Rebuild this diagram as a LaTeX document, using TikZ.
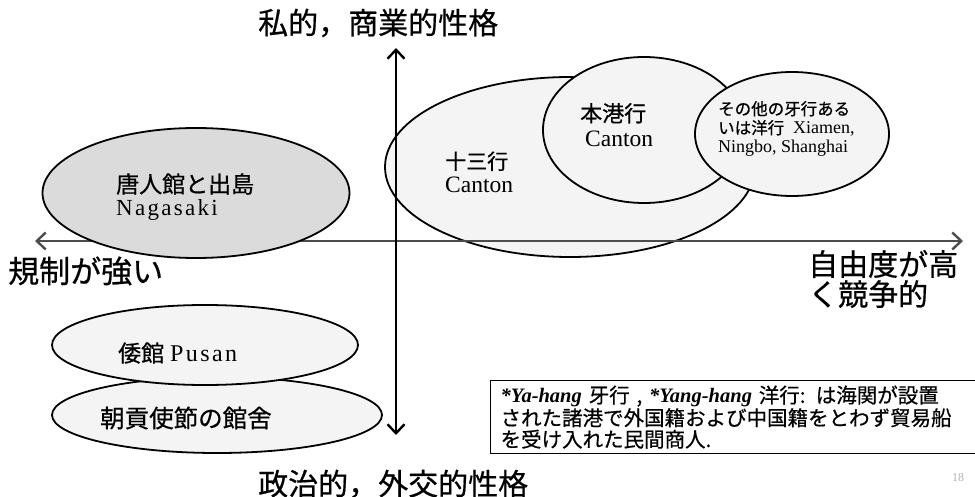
\documentclass[tikz,border=0pt]{standalone}
\usepackage{fontspec}
\setmainfont{Liberation Serif}
\newfontfamily\jpfont[FakeBold=0.6]{Noto Sans CJK JP}
\newfontfamily\wideserif[LetterSpace=10]{Liberation Serif}
\usetikzlibrary{shapes.geometric,arrows.meta,positioning}

\tikzset{
  zone/.style={ellipse, draw=black, line width=1.8pt, fill=gray!9, inner sep=0pt},
  zonetext/.style={align=left, anchor=west, inner sep=0pt},
  axislabel/.style={anchor=west, inner sep=0pt, font=\jpfont\fontsize{30}{30}\selectfont},
  axis/.style={line width=2.4pt, {Straight Barb[length=9pt,width=17pt]}-{Straight Barb[length=9pt,width=17pt]}},
}

\begin{document}
\begin{tikzpicture}[x=1pt,y=-1pt]
\useasboundingbox (0,0) rectangle (975,497);
% free side
\node[zone, minimum width=370pt, minimum height=180pt](shisan) at (570,167) {};
\node[zone, minimum width=202pt, minimum height=146pt](honko) at (644,130) {};
\node[zone, minimum width=194pt, minimum height=124pt](others) at (792,134) {};
% axes
\coordinate (axW) at (35,241);
\coordinate (axE) at (963,241);
\coordinate (axN) at (396,48);
\coordinate (axS) at (396,435);
\draw[axis, draw=black!70](axW)--(axE);
\draw[axis](axN)--(axS);
% regulated side
\node[zone, fill=gray!28, minimum width=307pt, minimum height=130pt](nagasaki) at (196,193) {};
\node[zone, minimum width=330pt, minimum height=76pt](chosen) at (217,415) {};
\node[zone, minimum width=306pt, minimum height=80pt](wakan) at (205,345) {};

\node[zonetext, font=\fontsize{23}{23}\selectfont](nagasakitext) at (116,197)
  {{\jpfont 唐人館と出島}\\{\wideserif Nagasaki}};
\node[zonetext, font=\fontsize{23.5}{23}\selectfont](shisantext) at (445,172)
  {{\jpfont\fontsize{21}{23}\selectfont 十三行}\\Canton};
\node[zonetext, font=\fontsize{23.5}{25}\selectfont](honkotext) at (580,125)
  {{\jpfont\fontsize{22}{25}\selectfont 本港行}\\\hspace{5pt}Canton};
\node[zonetext, font=\fontsize{18}{19}\selectfont](otherstext) at (718,129)
  {{\jpfont\fontsize{16.5}{19}\selectfont その他の牙行ある}\\{\jpfont\fontsize{16.5}{19}\selectfont いは洋行}\ \ Xiamen,\\Ningbo, Shanghai};
\node[zonetext, font=\fontsize{24}{24}\selectfont](wakantext) at (118,353)
  {{\jpfont\fontsize{23}{24}\selectfont 倭館} {\wideserif Pusan}};
\node[zonetext, font=\jpfont\fontsize{24.5}{24.5}\selectfont](chosentext) at (100,418) {朝貢使節の館舍};

% axis labels
\node[axislabel](private) at (258,23) {私的，商業的性格};
\node[axislabel](political) at (258,484) {政治的，外交的性格};
\node[axislabel, font=\jpfont\fontsize{31}{31}\selectfont](strict) at (8,271) {規制が強い};
\node[axislabel, align=left](free) at (808,279) {自由度が高\\く競争的};

% note (runs off the right edge)
\node[draw, line width=1.2pt, anchor=north west, minimum height=73pt,
  text width=580pt, inner xsep=10pt, align=left,
  font=\jpfont\fontsize{20.5}{21.5}\selectfont](note) at (490,380)
  {{\rmfamily\bfseries\itshape *Ya-hang} 牙行 , {\rmfamily\bfseries\itshape *Yang-hang} 洋行: は海関が設置\\された諸港で外国籍および中国籍をとわず貿易船\\を受け入れた民間商人.};
\node[text=gray!60, font=\fontsize{12}{12}\selectfont](pagenum) at (958,478) {18};
\end{tikzpicture}
\end{document}
